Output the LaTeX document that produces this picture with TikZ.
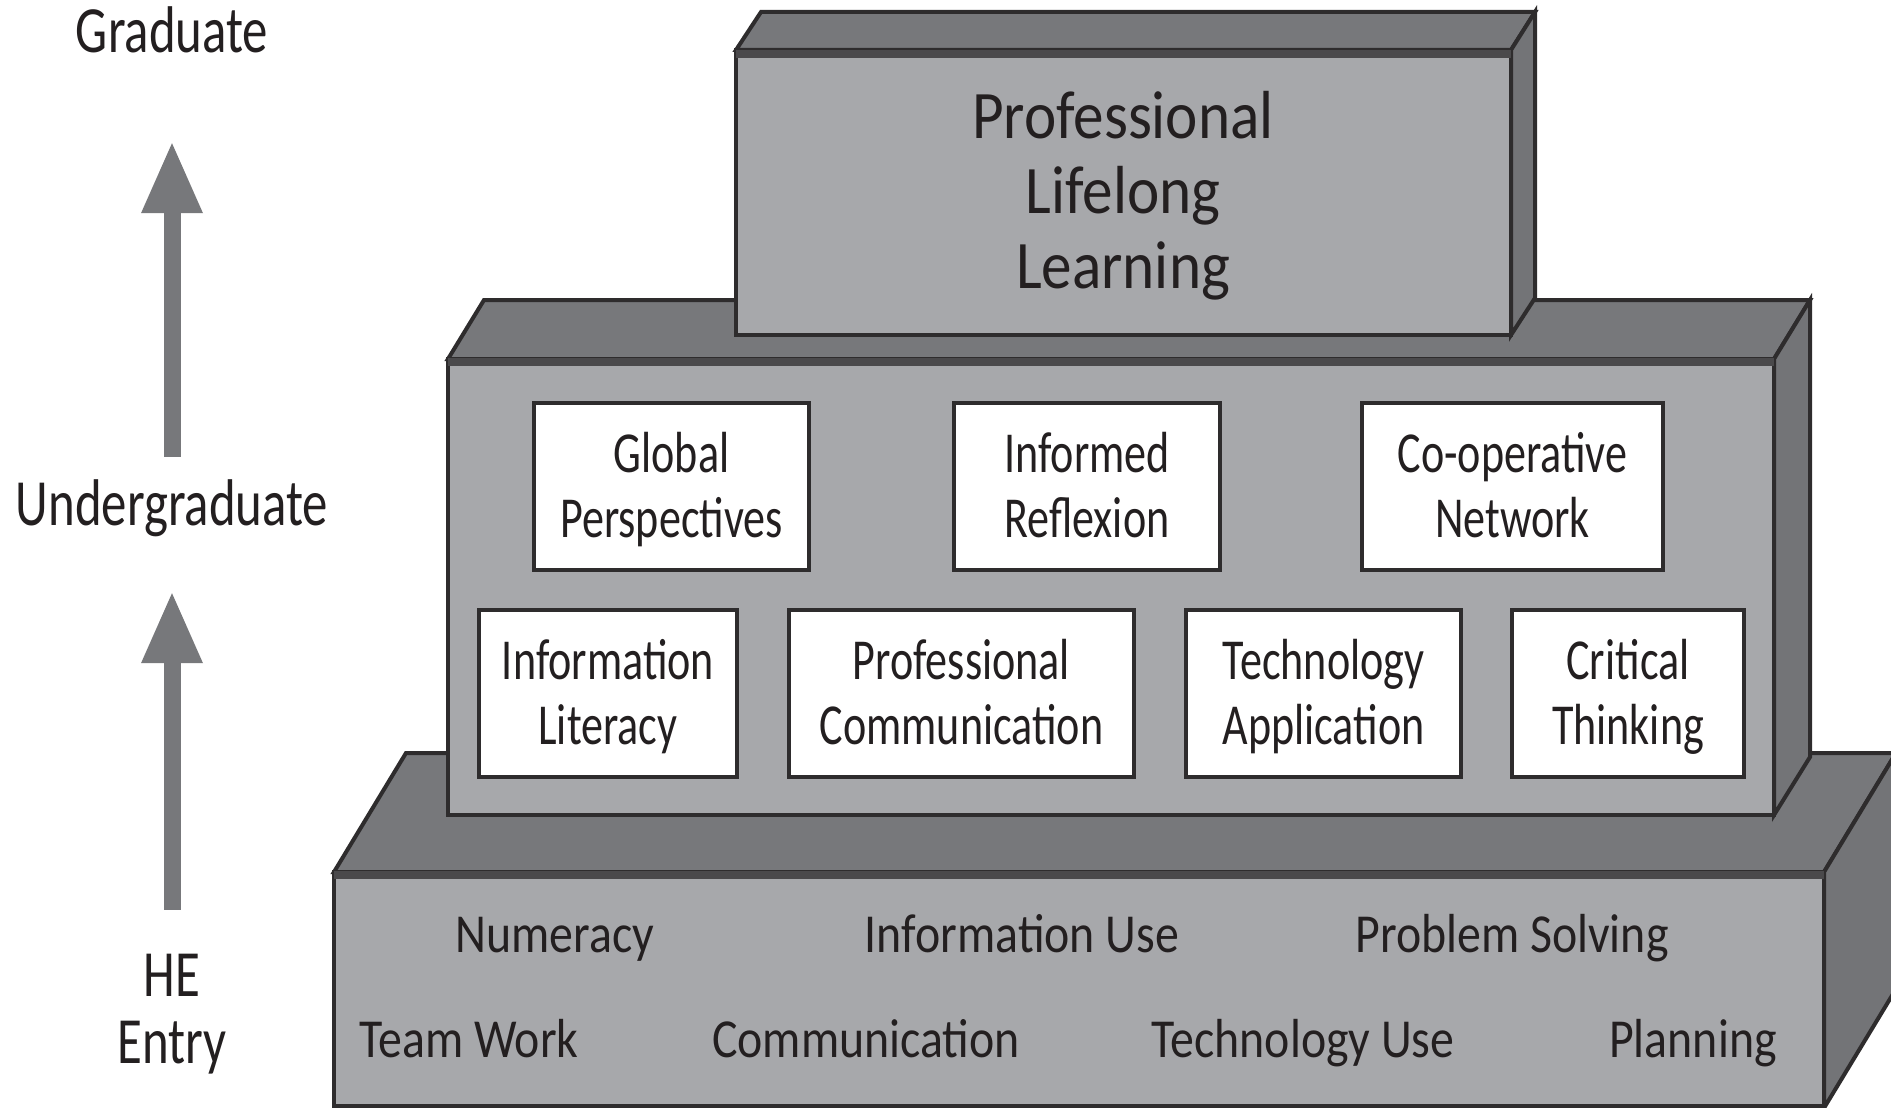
\documentclass[tikz,border=0pt]{standalone}
\usepackage{fontspec}
\setmainfont{Carlito}
\newfontfamily\levelfont{Carlito}[FakeStretch=0.77]
\newfontfamily\cellfont{Carlito}[FakeStretch=0.76]
\newfontfamily\skillfont{Carlito}[FakeStretch=0.87]
\newfontfamily\crownfont{Carlito}[FakeStretch=0.9]
\usetikzlibrary{arrows.meta}
\definecolor{frontgray}{HTML}{A7A8AB}
\definecolor{topgray}{HTML}{77787B}
\definecolor{sidegray}{HTML}{737477}
\definecolor{edgedark}{HTML}{2E2C2D}
\definecolor{bandgray}{HTML}{4A494B}
\definecolor{inkdark}{HTML}{231F20}

\begin{document}
\begin{tikzpicture}[x=1pt,y=-1pt,
	face/.style={draw=edgedark,line width=4pt},
	front/.style={face,fill=frontgray},
	topside/.style={face,fill=topgray},
	side/.style={face,fill=sidegray},
	band/.style={bandgray,line width=8pt},
	level/.style={font=\levelfont\fontsize{66}{67}\selectfont,text=inkdark,inner sep=0pt,align=center,text height=42pt,text depth=0pt},
	skill/.style={font=\skillfont\fontsize{55}{60}\selectfont,text=inkdark,inner sep=0pt,anchor=base},
	cell/.style={draw=edgedark,line width=4pt,fill=white,minimum height=167pt,inner sep=0pt,align=center,text=inkdark,font=\cellfont\fontsize{58}{65}\selectfont,text height=102pt,text depth=0pt},
	crown/.style={font=\crownfont\fontsize{68}{75}\selectfont,text=inkdark,inner sep=0pt,align=center,text height=193pt,text depth=0pt},
	rise/.style={topgray,line width=17pt,-{Triangle[width=62pt,length=70pt,line width=0pt]}}]
		\useasboundingbox (0,0) rectangle (1891,1108);

		\filldraw[topside]	(334,872) -- (406,753) -- (1896,753) -- (1824,872) -- cycle;
		\filldraw[side]		(1824,872) -- (1896,753) -- (1896,989) -- (1824,1108) -- cycle;
		\filldraw[front]	(334,872) rectangle (1824,1106);
		\draw[band]			(334,875) -- (1824,875);

		\filldraw[topside]	(448,359) -- (484,300) -- (1810,300) -- (1774,359) -- cycle;
		\filldraw[side]		(1774,359) -- (1810,300) -- (1810,757) -- (1774,815) -- cycle;
		\filldraw[front]	(448,359) rectangle (1774,815);
		\draw[band]			(448,362) -- (1774,362);

		\filldraw[topside]	(736,50) -- (761,12) -- (1535,12) -- (1511,50) -- cycle;
		\filldraw[side]		(1511,50) -- (1535,12) -- (1535,298) -- (1511,335) -- cycle;
		\filldraw[front]	(736,50) rectangle (1511,335);
		\draw[band]			(736,54) -- (1511,54);

		\node[crown]				(pll)		at (1123,192)	{Professional\\Lifelong\\Learning};

		\node[cell,minimum width=275pt]	(global)	at (671.5,486.5)	{Global\\Perspectives};
		\node[cell,minimum width=266pt]	(reflex)	at (1087,486.5)		{Informed\\Reflexion};
		\node[cell,minimum width=301pt]	(coop)		at (1512.5,486.5)	{Co-operative\\Network};
		\node[cell,minimum width=258pt]	(inflit)	at (608,693.5)		{Information\\Literacy};
		\node[cell,minimum width=345pt]	(procom)	at (961.5,693.5)	{Professional\\Communication};
		\node[cell,minimum width=275pt]	(techapp)	at (1323.5,693.5)	{Technology\\Application};
		\node[cell,minimum width=232pt]	(crit)		at (1628,693.5)		{Critical\\Thinking};

		\node[skill]	(num)		at (555,952)	{Numeracy};
		\node[skill]	(infuse)	at (1022,952)	{Information Use};
		\node[skill]	(probsolv)	at (1512,952)	{Problem Solving};
		\node[skill]	(team)		at (469,1057)	{Team Work};
		\node[skill]	(comm)		at (866,1057)	{Communication};
		\node[skill]	(techuse)	at (1303,1057)	{Technology Use};
		\node[skill]	(plan)		at (1693,1057)	{Planning};

		\node[level,anchor=base]					(grad)	at (172,53)		{Graduate};
		\node[level,anchor=base]					(under)	at (172,525)	{Undergraduate};
		\node[level,anchor=base,text height=109pt]	(entry)	at (172,1063)	{HE\\Entry};

		\draw[rise,shorten <=26pt,shorten >=90pt]	(under.north) -- (grad.south);
		\draw[rise,shorten <=44pt,shorten >=68pt]	(entry.north) -- (under.south);
	\end{tikzpicture}
\end{document}
